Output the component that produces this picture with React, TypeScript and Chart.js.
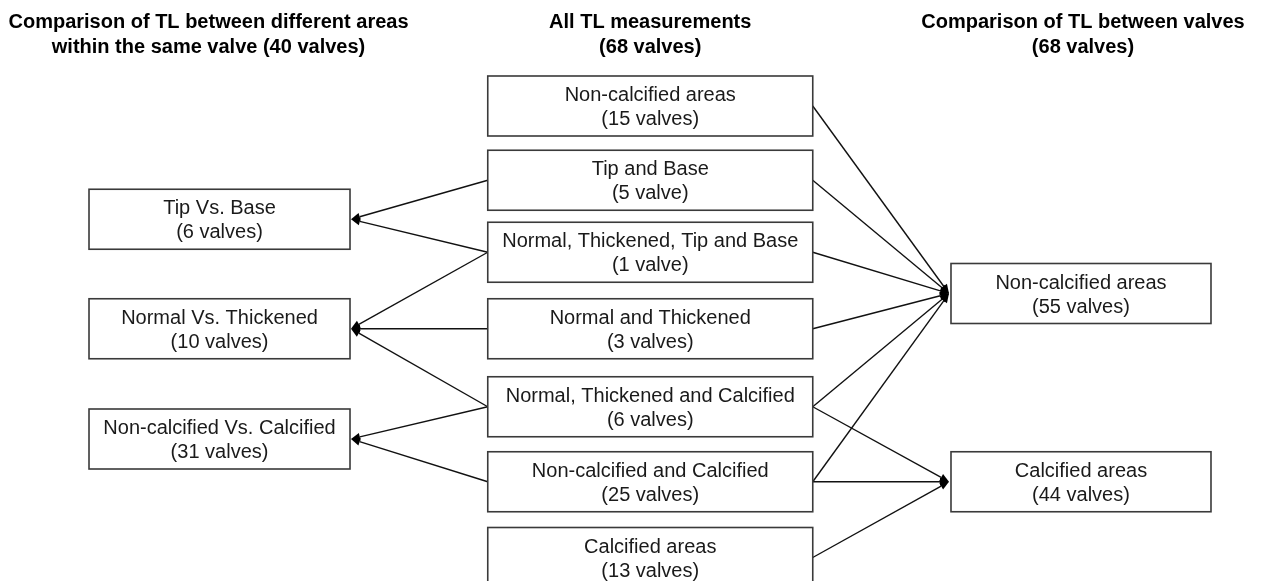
import React, { useEffect, useRef } from "react";
import { Chart, registerables } from "chart.js";

Chart.register(...registerables);

// ---------- data ----------
const columnTitles: string[][] = [
  ["Comparison of TL between different areas", "within the same valve (40 valves)"],
  ["All TL measurements", "(68 valves)"],
  ["Comparison of TL between valves", "(68 valves)"],
];

const middleLabels = [
  "Non-calcified areas",
  "Tip and Base",
  "Normal, Thickened, Tip and Base",
  "Normal and Thickened",
  "Normal, Thickened and Calcified",
  "Non-calcified and Calcified",
  "Calcified areas",
];
const middleCounts = [15, 5, 1, 3, 6, 25, 13];
const middleUnits = ["valves", "valve", "valve", "valves", "valves", "valves", "valves"];

const leftLabels = ["Tip Vs. Base", "Normal Vs. Thickened", "Non-calcified Vs. Calcified"];
const leftCounts = [6, 10, 31];

const rightLabels = ["Non-calcified areas", "Calcified areas"];
const rightCounts = [55, 44];

// [middle index, left index]
const leftEdges: number[][] = [[1, 0], [2, 0], [2, 1], [3, 1], [4, 1], [4, 2], [5, 2]];
// [middle index, right index]
const rightEdges: number[][] = [[0, 0], [1, 0], [2, 0], [3, 0], [4, 0], [4, 1], [5, 0], [5, 1], [6, 1]];

// ---------- layout (row slots) ----------
const middleRows = [0, 0.99, 1.95, 2.97, 4.01, 5.01, 6.02];
const leftRows = [1.51, 2.97, 4.44];
const rightRows = [2.5, 5.01];

const FONT = "'Liberation Sans', Arial, sans-serif";

type Node = { col: number; row: number; label: string; sub: string };

function buildNodes() {
  const left: Node[] = leftLabels.map((l, i) => ({ col: 0, row: leftRows[i], label: l, sub: `(${leftCounts[i]} valves)` }));
  const mid: Node[] = middleLabels.map((l, i) => ({ col: 1, row: middleRows[i], label: l, sub: `(${middleCounts[i]} ${middleUnits[i]})` }));
  const right: Node[] = rightLabels.map((l, i) => ({ col: 2, row: rightRows[i], label: l, sub: `(${rightCounts[i]} valves)` }));
  return { left, mid, right };
}

const boxWidths = [261, 325, 260];
const boxHeight = 60;
const titleOffsets = [-11, 0, 2];

const diagramPlugin = {
  id: "diagram",
  afterDraw(chart: any) {
    const ctx: CanvasRenderingContext2D = chart.ctx;
    const xs = chart.scales.x;
    const ys = chart.scales.y;
    const { left, mid, right } = buildNodes();

    const box = (n: Node) => {
      const cx = xs.getPixelForValue(n.col);
      const cy = ys.getPixelForValue(n.row);
      const w = boxWidths[n.col];
      return { cx, cy, x0: cx - w / 2, x1: cx + w / 2, y0: cy - boxHeight / 2, y1: cy + boxHeight / 2 };
    };

    ctx.save();
    // titles
    ctx.fillStyle = "#000";
    ctx.textAlign = "center";
    ctx.textBaseline = "alphabetic";
    ctx.font = `bold 20px ${FONT}`;
    columnTitles.forEach((lines, c) => {
      const cx = xs.getPixelForValue(c) + titleOffsets[c];
      ctx.fillText(lines[0], cx, 28);
      ctx.fillText(lines[1], cx, 53);
    });

    // edges
    const arrow = (sx: number, sy: number, tx: number, ty: number) => {
      const ang = Math.atan2(ty - sy, tx - sx);
      const L = 9;
      const H = 4;
      const bx = tx - L * Math.cos(ang);
      const by = ty - L * Math.sin(ang);
      ctx.strokeStyle = "#111";
      ctx.lineWidth = 1.4;
      ctx.beginPath();
      ctx.moveTo(sx, sy);
      ctx.lineTo(bx, by);
      ctx.stroke();
      ctx.fillStyle = "#000";
      ctx.beginPath();
      ctx.moveTo(tx, ty);
      ctx.lineTo(bx + H * Math.sin(ang), by - H * Math.cos(ang));
      ctx.lineTo(bx - H * Math.sin(ang), by + H * Math.cos(ang));
      ctx.closePath();
      ctx.fill();
    };
    leftEdges.forEach(([m, l]) => {
      const s = box(mid[m]);
      const t = box(left[l]);
      arrow(s.x0, s.cy, t.x1 + 1, t.cy);
    });
    rightEdges.forEach(([m, r]) => {
      const s = box(mid[m]);
      const t = box(right[r]);
      arrow(s.x1, s.cy, t.x0 - 2, t.cy);
    });

    // boxes
    [...left, ...mid, ...right].forEach((n) => {
      const b = box(n);
      ctx.fillStyle = "#fff";
      ctx.fillRect(b.x0, b.y0, b.x1 - b.x0, b.y1 - b.y0);
      ctx.strokeStyle = "#3a3a3a";
      ctx.lineWidth = 1.6;
      ctx.strokeRect(b.x0, b.y0, b.x1 - b.x0, b.y1 - b.y0);
      ctx.fillStyle = "#1a1a1a";
      ctx.font = `20px ${FONT}`;
      ctx.textAlign = "center";
      ctx.textBaseline = "alphabetic";
      ctx.fillText(n.label, b.cx, b.cy - 5);
      ctx.fillText(n.sub, b.cx, b.cy + 19);
    });
    ctx.restore();
  },
};

export default function App() {
  const ref = useRef<HTMLCanvasElement | null>(null);
  useEffect(() => {
    document.body.style.margin = "0";
    const { left, mid, right } = buildNodes();
    const pts = [...left, ...mid, ...right].map((n) => ({ x: n.col, y: n.row }));
    const chart = new Chart(ref.current as HTMLCanvasElement, {
      type: "scatter",
      data: { datasets: [{ data: pts, pointRadius: 0, pointHoverRadius: 0 }] },
      options: {
        animation: false,
        responsive: false,
        layout: { padding: 0 },
        events: [],
        plugins: { legend: { display: false }, tooltip: { enabled: false } },
        scales: {
          x: { type: "linear", display: false, min: -0.5096, max: 2.4179 },
          y: { type: "linear", display: false, reverse: true, min: -1.4133, max: 6.3333 },
        },
      },
      plugins: [diagramPlugin],
    });
    return () => chart.destroy();
  }, []);
  return (
    <div style={{ position: "fixed", left: 0, top: 0, width: 1261, height: 581, background: "#fff" }}>
      <canvas ref={ref} width={1261} height={581} style={{ display: "block" }} />
    </div>
  );
}
